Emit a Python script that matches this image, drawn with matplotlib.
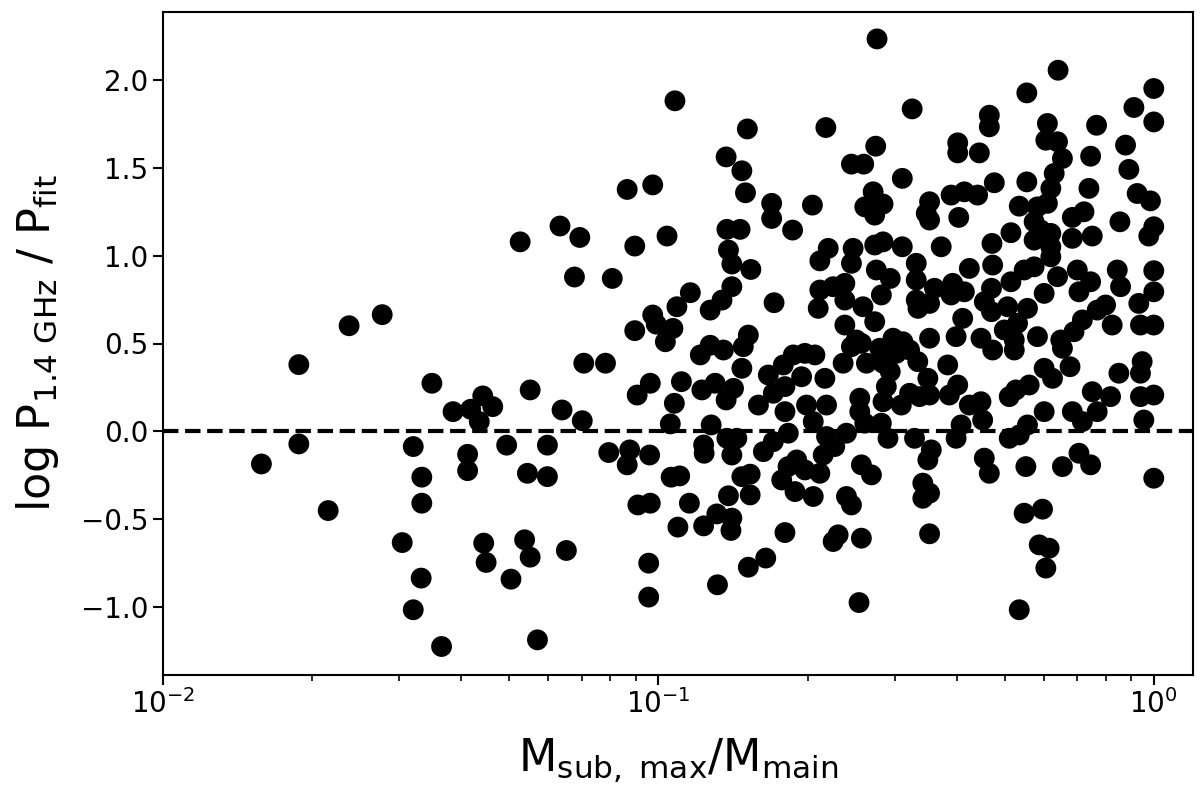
import numpy as np
import matplotlib
matplotlib.use('Agg')
import matplotlib.pyplot as plt

# (M_sub,max / M_main, log P_1.4GHz / P_fit), grouped by x range
pts_low = [
    (0.0158, -0.185), (0.0188, 0.38), (0.0188, -0.071), (0.02155, -0.45), (0.02375, 0.601),
    (0.0277, 0.664), (0.0304, -0.632), (0.0320, -0.086), (0.0320, -1.014), (0.0333, -0.26),
    (0.0333, -0.408), (0.0332, -0.834), (0.0349, 0.274), (0.0365, -1.223), (0.0385, 0.1125),
    (0.0412, -0.13), (0.0412, -0.223), (0.0418, 0.126), (0.0435, 0.056), (0.0442, 0.202),
    (0.0444, -0.635), (0.0449, -0.745), (0.0463, 0.141), (0.0494, -0.078), (0.0504, -0.84),
    (0.0526, 1.078), (0.0537, -0.616), (0.0544, -0.238), (0.0551, 0.236), (0.0551, -0.715),
    (0.057, -1.185), (0.0597, -0.078), (0.0597, -0.257), (0.0633, 1.168), (0.0639, 0.122),
    (0.0652, -0.677), (0.0677, 0.878), (0.0694, 1.103), (0.0702, 0.061), (0.0707, 0.388),
    (0.0782, 0.388), (0.0794, -0.12), (0.0807, 0.870),
]

pts_mid = [
    (0.1080, 1.88), (0.1512, 1.72), (0.1370, 1.561), (0.1474, 1.482), (0.1499, 1.357),
    (0.0865, 1.376), (0.0974, 1.402), (0.1693, 1.297), (0.1693, 1.211), (0.1866, 1.145),
    (0.1375, 1.149), (0.1462, 1.149), (0.1385, 1.031), (0.1407, 0.952), (0.1537, 0.921),
    (0.0896, 1.054), (0.1041, 1.111), (0.1160, 0.789), (0.1090, 0.709), (0.0974, 0.662),
    (0.099, 0.61), (0.0896, 0.573), (0.1070, 0.586), (0.1033, 0.51), (0.1272, 0.69),
    (0.1344, 0.747), (0.1407, 0.823), (0.1712, 0.732), (0.1519, 0.548), (0.1215, 0.435),
    (0.1272, 0.49), (0.1353, 0.463), (0.1484, 0.482), (0.1474, 0.359), (0.1667, 0.321),
    (0.1787, 0.378), (0.1872, 0.435), (0.0906, 0.207), (0.0963, 0.274), (0.1113, 0.283),
    (0.1077, 0.16), (0.1057, 0.043), (0.1224, 0.236), (0.1302, 0.274), (0.1370, 0.179),
    (0.1418, 0.245), (0.1592, 0.15), (0.1706, 0.217), (0.1801, 0.255), (0.1801, 0.1125),
    (0.1278, 0.037), (0.0875, -0.105), (0.0865, -0.19), (0.0960, -0.134), (0.1234, -0.077),
    (0.1237, -0.124), (0.1375, -0.039), (0.1440, -0.039), (0.1407, -0.134), (0.1629, -0.115),
    (0.1706, -0.058), (0.1829, -0.01), (0.1061, -0.26), (0.1104, -0.253), (0.1474, -0.257),
    (0.1532, -0.243), (0.1532, -0.361), (0.1385, -0.366), (0.0909, -0.418), (0.0963, -0.408),
    (0.1155, -0.408), (0.1095, -0.544), (0.1234, -0.537), (0.1312, -0.469), (0.1407, -0.493),
    (0.1401, -0.563), (0.1801, -0.575), (0.0956, -0.749), (0.0956, -0.942), (0.1316, -0.872),
    (0.1519, -0.772), (0.1647, -0.72), (0.1827, -0.2), (0.1774, -0.276),
]

pts_upper = [
    (0.2763, 2.232), (0.3253, 1.834), (0.2178, 1.728), (0.2746, 1.622), (0.2453, 1.52),
    (0.2597, 1.52), (0.4656, 1.798), (0.4656, 1.732), (0.4020, 1.641), (0.4020, 1.584),
    (0.4445, 1.584), (0.3107, 1.439), (0.2046, 1.287), (0.2713, 1.3625), (0.2610, 1.277),
    (0.2841, 1.293), (0.2733, 1.23), (0.3527, 1.306), (0.3473, 1.24), (0.3527, 1.202),
    (0.3898, 1.344), (0.4146, 1.3625), (0.4410, 1.344), (0.4039, 1.217), (0.4765, 1.414),
    (0.2202, 1.041), (0.2118, 0.97), (0.2472, 1.041), (0.2453, 0.956), (0.2733, 1.06),
    (0.2841, 1.078), (0.3107, 1.05), (0.3723, 1.05), (0.4714, 1.069), (0.4729, 0.946),
    (0.2754, 0.918), (0.2938, 0.870), (0.3315, 0.956), (0.3315, 0.861), (0.4243, 0.927),
    (0.2118, 0.804), (0.2102, 0.7), (0.2253, 0.823), (0.2379, 0.842), (0.2379, 0.747),
    (0.2588, 0.709), (0.2819, 0.776), (0.2379, 0.605), (0.2509, 0.52), (0.2733, 0.624),
    (0.2976, 0.53), (0.3315, 0.747), (0.3342, 0.7), (0.3527, 0.728), (0.3608, 0.814),
    (0.3927, 0.842), (0.3898, 0.776), (0.4146, 0.794), (0.4114, 0.643), (0.4549, 0.7375),
    (0.4703, 0.814), (0.4703, 0.681), (0.3527, 0.53), (0.3990, 0.539), (0.4479, 0.53),
    (0.3116, 0.51),
]

pts_lower = [
    (0.1976, 0.444), (0.2070, 0.435), (0.1946, 0.311), (0.2168, 0.302), (0.2360, 0.388),
    (0.2453, 0.482), (0.2569, 0.501), (0.2630, 0.388), (0.2797, 0.473), (0.3022, 0.444),
    (0.3214, 0.463), (0.3339, 0.397), (0.2938, 0.34), (0.2885, 0.255), (0.2841, 0.388),
    (0.3214, 0.217), (0.3499, 0.302), (0.3527, 0.207), (0.3366, 0.198), (0.3093, 0.15),
    (0.2841, 0.169), (0.3837, 0.378), (0.4020, 0.264), (0.3867, 0.207), (0.4243, 0.15),
    (0.4479, 0.169), (0.4514, 0.065), (0.4083, 0.037), (0.3990, -0.039), (0.4729, 0.463),
    (0.2550, 0.189), (0.2550, 0.1125), (0.2610, 0.047), (0.2819, 0.047), (0.2907, -0.039),
    (0.3289, -0.039), (0.2397, -0.01), (0.2185, 0.15), (0.1991, 0.15), (0.2054, 0.056),
    (0.2185, -0.029), (0.2270, -0.086), (0.2151, -0.134), (0.1902, -0.162), (0.1976, -0.219),
    (0.2118, -0.238), (0.1887, -0.342), (0.2054, -0.37), (0.2569, -0.19), (0.2692, -0.247),
    (0.2397, -0.37), (0.2453, -0.418), (0.2306, -0.588), (0.2253, -0.626), (0.2569, -0.607),
    (0.2541, -0.973), (0.3555, -0.105), (0.3499, -0.162), (0.3418, -0.294), (0.3527, -0.351),
    (0.3418, -0.38), (0.3527, -0.582), (0.4549, -0.152), (0.4656, -0.238),
]

pts_high = [
    (0.641, 2.054), (0.5543, 1.925), (1.0, 1.95), (0.9118, 1.842), (1.0, 1.76),
    (0.6099, 1.751), (0.6055, 1.656), (0.6393, 1.647), (0.654, 1.552), (0.7665, 1.741),
    (0.7456, 1.565), (0.8770, 1.628), (0.8906, 1.49), (0.5543, 1.419), (0.6295, 1.467),
    (0.6197, 1.382), (0.7398, 1.382), (0.6099, 1.297), (0.5823, 1.277), (0.5351, 1.281),
    (0.9258, 1.353), (0.9847, 1.311), (0.7230, 1.249), (0.6848, 1.217), (0.8544, 1.192),
    (1.0, 1.164), (0.9770, 1.111), (0.7513, 1.111), (0.5734, 1.192), (0.5916, 1.145),
    (0.6197, 1.126), (0.5148, 1.13), (0.5734, 1.088), (0.6197, 1.05), (0.6848, 1.098),
    (0.6197, 0.993), (0.5734, 0.936), (0.5474, 0.918), (0.5148, 0.851), (0.6393, 0.88),
    (0.7008, 0.918), (0.7456, 0.851), (0.7063, 0.794), (0.8439, 0.918), (0.8570, 0.823),
    (1.0, 0.914), (1.0, 0.794), (0.9328, 0.728), (0.5069, 0.709), (0.5560, 0.7),
    (0.6008, 0.785), (0.5309, 0.615), (0.4992, 0.577), (0.5823, 0.539), (0.6490, 0.52),
    (0.7175, 0.634), (0.7688, 0.69), (0.7993, 0.719), (0.8242, 0.605), (0.6902, 0.567),
    (0.9400, 0.605), (1.0, 0.605), (0.5229, 0.52),
    (0.5229, 0.463), (0.654, 0.473), (0.6008, 0.359), (0.6246, 0.302), (0.6776, 0.368),
    (0.5604, 0.264), (0.5268, 0.236), (0.5108, 0.198), (0.6008, 0.1125), (0.556, 0.037),
    (0.5351, -0.02), (0.5108, -0.039), (0.6848, 0.1125), (0.7175, 0.056), (0.7513, 0.226),
    (0.7688, 0.1125), (0.8180, 0.198), (0.8503, 0.331), (0.9474, 0.397), (0.94, 0.331),
    (0.94, 0.198), (1.0, 0.207), (0.9548, 0.065), (0.5518, -0.2), (0.654, -0.2),
    (0.7063, -0.124), (0.7456, -0.19), (1.0, -0.266), (0.5474, -0.465), (0.5962, -0.442),
    (0.5871, -0.645), (0.6149, -0.664), (0.6055, -0.777), (0.5351, -1.014),
]

data = np.array(pts_low + pts_mid + pts_upper + pts_lower + pts_high)
msub_ratio = data[:, 0]
log_excess = data[:, 1]

fig = plt.figure(figsize=(12, 7.95), dpi=100)
ax = fig.add_axes([163/1200, 1-675/795, (1193-163)/1200, (675-12)/795])

ax.scatter(msub_ratio, log_excess, s=225, c='black', edgecolors='none', zorder=2)
ax.axhline(0, color='black', ls='--', lw=3, zorder=3)

ax.set_xscale('log')
ax.set_xlim(0.01, 1.2)
ax.set_ylim(-1.385, 2.385)
ax.set_yticks([-1.0, -0.5, 0.0, 0.5, 1.0, 1.5, 2.0])

ax.set_xlabel(r'M$_{\rm sub,\ max}$/M$_{\rm main}$', fontsize=32, labelpad=12)
ax.set_ylabel(r'log P$_{\rm 1.4\ GHz}$ / P$_{\rm fit}$', fontsize=32, labelpad=14)

ax.tick_params(which='major', labelsize=20, length=7, width=1.5)
ax.tick_params(which='minor', length=4, width=1.2)
for sp in ax.spines.values():
    sp.set_linewidth(1.5)

fig.savefig('out.png', dpi=100)
